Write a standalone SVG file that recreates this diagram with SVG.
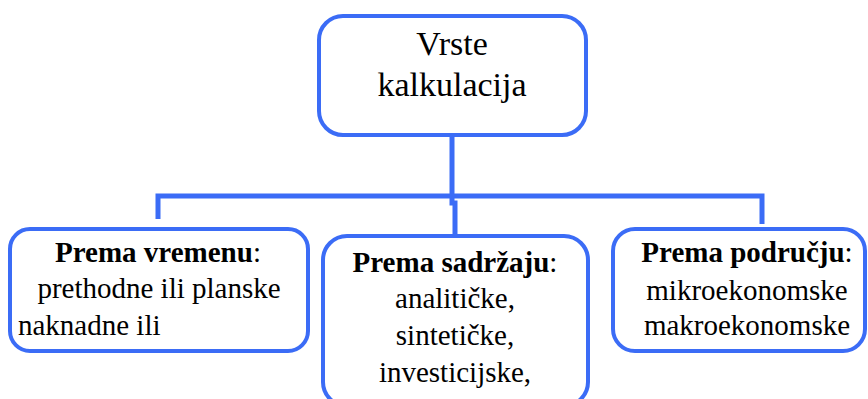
<svg xmlns="http://www.w3.org/2000/svg" width="868" height="399" viewBox="0 0 868 399">
<style>
.box{fill:#fff;stroke:#3b6cf6;stroke-width:4}
.con{fill:none;stroke:#3b6cf6;stroke-width:5}
.t{font-size:34px}
.b{font-size:29px}
.h{font-weight:bold}
</style>
<rect width="868" height="399" fill="#fff"/>
<g id="connectors">
<path class="con" d="M452 135 V203 H455 V236"/>
<path class="con" d="M158 219 V196 H762 V224"/>
</g>
<g font-family="'Liberation Serif', 'Times New Roman', serif" fill="#000">
<g id="top">
<rect class="box" x="319" y="16" width="267" height="119" rx="24"/>
<text class="t" x="452" y="55" text-anchor="middle">Vrste</text>
<text class="t" x="452" y="96" text-anchor="middle">kalkulacija</text>
</g>
<g id="vrijeme">
<rect class="box" x="10" y="229" width="298" height="122" rx="20"/>
<text class="b" x="158" y="262" text-anchor="middle"><tspan class="h">Prema vremenu</tspan>:</text>
<text class="b" x="159" y="298" text-anchor="middle">prethodne ili planske</text>
<text class="b" x="18" y="335">naknadne ili</text>
</g>
<g id="sadrzaj">
<rect class="box" x="323" y="236" width="265" height="170" rx="24"/>
<text class="b" x="455" y="272" text-anchor="middle"><tspan class="h">Prema sadržaju</tspan>:</text>
<text class="b" x="455" y="308" text-anchor="middle">analitičke,</text>
<text class="b" x="455" y="345" text-anchor="middle">sintetičke,</text>
<text class="b" x="455" y="382" text-anchor="middle">investicijske,</text>
</g>
<g id="podrucje">
<rect class="box" x="613" y="229" width="252" height="122" rx="22"/>
<text class="b" x="747" y="262" text-anchor="middle"><tspan class="h">Prema području</tspan>:</text>
<text class="b" x="747" y="300" text-anchor="middle">mikroekonomske</text>
<text class="b" x="747" y="335" text-anchor="middle">makroekonomske</text>
</g>
</g>
</svg>
